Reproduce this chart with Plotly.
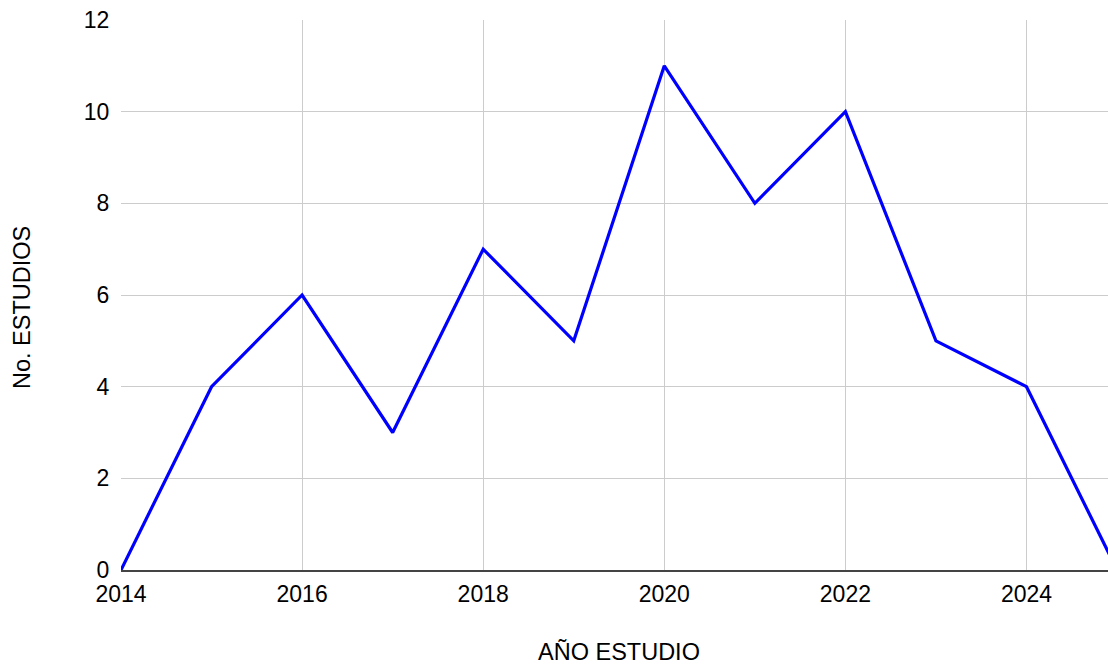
import plotly.graph_objects as go

years = [2014, 2015, 2016, 2017, 2018, 2019, 2020, 2021, 2022, 2023, 2024, 2025]
estudios = [0, 4, 6, 3, 7, 5, 11, 8, 10, 5, 4, 0]
x_ticks = [2014, 2016, 2018, 2020, 2022, 2024]
y_ticks = [0, 2, 4, 6, 8, 10, 12]
x_title = "AÑO ESTUDIO"
y_title = "No. ESTUDIOS"

fig = go.Figure()
fig.add_trace(go.Scatter(x=years, y=estudios, mode="lines",
                         line=dict(color="#0000ff", width=3.2)))

font = dict(family="Liberation Sans, Arial, sans-serif", size=23, color="#000000")
title_font = dict(family="Liberation Sans, Arial, sans-serif", size=23.5, color="#000000")
fig.update_layout(
    width=1108, height=664,
    margin=dict(l=121, r=0, t=20, b=94),
    paper_bgcolor="white", plot_bgcolor="white",
    font=font, showlegend=False,
    xaxis=dict(range=[2014, 2024.9], tickvals=x_ticks, ticktext=[str(t) for t in x_ticks],
               showgrid=True, gridcolor="#cccccc", gridwidth=1.3,
               showline=True, linecolor="#444444", linewidth=2,
               zeroline=False, ticks="outside", ticklen=2, tickcolor="rgba(0,0,0,0)",
               tickfont=font),
    yaxis=dict(range=[0, 12], tickvals=y_ticks,
               showgrid=True, gridcolor="#cccccc", gridwidth=1.3,
               zeroline=False, showline=False, ticks="outside", ticklen=6,
               tickcolor="rgba(0,0,0,0)",
               tickfont=font),
    annotations=[
        dict(text=x_title, xref="paper", yref="paper", x=0.5046, y=-0.149,
             xanchor="center", yanchor="middle", showarrow=False, font=title_font),
        dict(text=y_title, xref="paper", yref="paper", x=-0.1003, y=0.4764,
             xanchor="center", yanchor="middle", showarrow=False, textangle=-90,
             font=title_font),
    ],
)
fig.write_html("out.html", config={"displayModeBar": False},
               post_script="document.body.style.margin='0';")
